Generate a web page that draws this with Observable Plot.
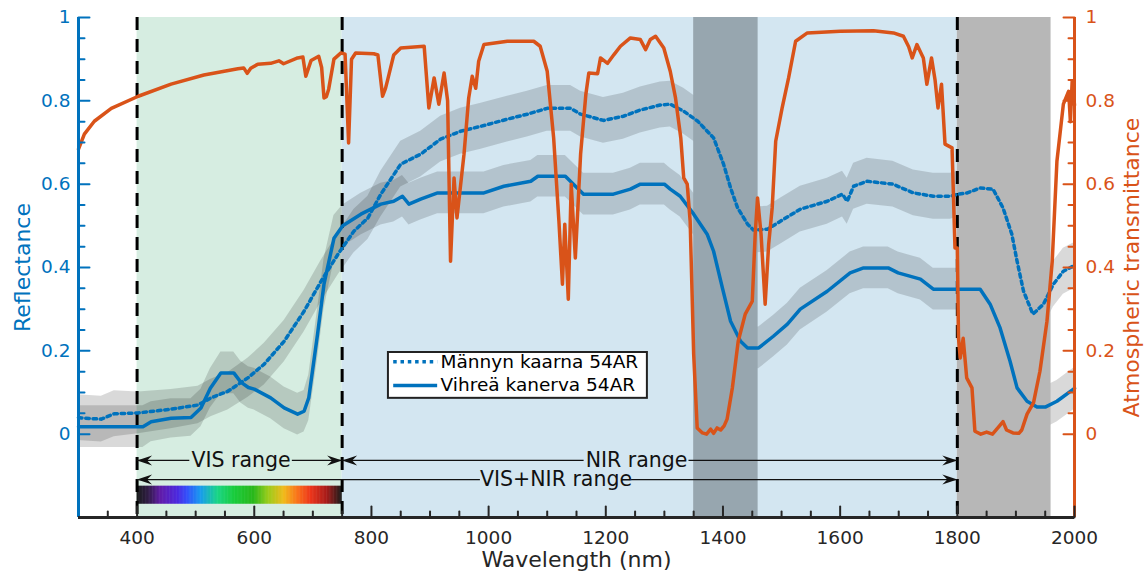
<!DOCTYPE html>
<html>
<head>
<meta charset="utf-8">
<script src="https://cdn.jsdelivr.net/npm/d3@7"></script>
<script src="https://cdn.jsdelivr.net/npm/@observablehq/plot@0.6"></script>
<style>
  html, body { margin: 0; padding: 0; background: #ffffff; }
  svg { display: block; }
</style>
</head>
<body>
<div id="chart"></div>
<script>
// ---------------- DATA ----------------
// Vihreä kanerva 54AR: [wavelength nm, mean reflectance, std]
const heather = [
  [300,0.018,0.05],[400,0.018,0.05],[410,0.018,0.05],[424,0.03,0.048],[458,0.038,0.047],[492,0.04,0.045],
  [509,0.063,0.045],[525,0.11,0.047],[543,0.147,0.05],[565,0.147,0.05],[577,0.125,0.05],[590,0.112,0.05],
  [600,0.108,0.05],[628,0.087,0.05],[651,0.063,0.05],[674,0.048,0.05],[685,0.055,0.05],[693,0.087,0.055],
  [708,0.24,0.06],[719,0.36,0.06],[736,0.47,0.055],[751,0.5,0.05],[782,0.528,0.05],[816,0.552,0.05],
  [838,0.559,0.05],[853,0.571,0.05],[864,0.552,0.05],[884,0.564,0.05],[913,0.579,0.05],[992,0.579,0.05],
  [1026,0.595,0.05],[1072,0.607,0.05],[1084,0.619,0.05],[1131,0.619,0.05],[1162,0.576,0.05],[1213,0.576,0.05],
  [1242,0.588,0.05],[1259,0.6,0.05],[1300,0.6,0.05],[1310,0.588,0.05],[1327,0.571,0.05],[1350,0.528,0.05],
  [1373,0.48,0.05],[1384,0.439,0.05],[1399,0.351,0.05],[1413,0.271,0.05],[1430,0.223,0.05],[1442,0.207,0.05],
  [1461,0.207,0.05],[1486,0.235,0.05],[1510,0.264,0.05],[1532,0.3,0.05],[1578,0.343,0.05],[1617,0.387,0.05],
  [1640,0.399,0.05],[1682,0.399,0.05],[1699,0.387,0.05],[1737,0.372,0.05],[1759,0.348,0.05],[1839,0.348,0.05],
  [1856,0.312,0.05],[1873,0.255,0.05],[1890,0.175,0.05],[1902,0.111,0.05],[1919,0.079,0.05],[1936,0.065,0.05],
  [1950,0.065,0.05],[1970,0.079,0.05],[2000,0.11,0.05]
];

// Männyn kaarna 54AR: [wavelength nm, mean reflectance, std]
const bark = [
  [300,0.04,0.055],[305,0.039,0.055],[339,0.036,0.055],[361,0.049,0.055],[402,0.051,0.05],[458,0.06,0.047],
  [504,0.07,0.045],[526,0.087,0.045],[555,0.103,0.045],[589,0.135,0.047],[617,0.168,0.05],[651,0.223,0.05],
  [685,0.295,0.05],[714,0.367,0.05],[743,0.432,0.05],[770,0.487,0.052],[794,0.519,0.052],[816,0.576,0.055],
  [850,0.648,0.055],[884,0.672,0.055],[918,0.708,0.055],[952,0.727,0.055],[987,0.739,0.055],[1032,0.756,0.055],
  [1066,0.768,0.055],[1100,0.782,0.055],[1140,0.782,0.055],[1157,0.768,0.055],[1196,0.753,0.055],[1230,0.763,0.055],
  [1259,0.778,0.055],[1293,0.79,0.055],[1310,0.792,0.055],[1333,0.775,0.055],[1357,0.751,0.055],[1384,0.711,0.055],
  [1401,0.648,0.055],[1413,0.591,0.055],[1425,0.543,0.055],[1442,0.504,0.055],[1452,0.49,0.055],[1476,0.492,0.055],
  [1498,0.511,0.055],[1532,0.54,0.055],[1578,0.559,0.055],[1604,0.576,0.055],[1612,0.559,0.055],[1623,0.595,0.055],
  [1646,0.607,0.055],[1690,0.6,0.055],[1725,0.579,0.055],[1759,0.571,0.055],[1788,0.571,0.055],[1802,0.576,0.055],
  [1817,0.579,0.055],[1839,0.591,0.055],[1861,0.588,0.055],[1878,0.543,0.055],[1893,0.48,0.055],[1902,0.415,0.055],
  [1913,0.343,0.055],[1929,0.288,0.055],[1947,0.312,0.055],[1964,0.36,0.055],[1981,0.391,0.055],[2000,0.405,0.055]
];

// Atmospheric transmittance: [wavelength nm, transmittance]
const transmittance = [
  [300,0.684],[310,0.72],[327,0.751],[356,0.782],[402,0.811],[458,0.84],[514,0.862],[572,0.877],[582,0.879],
  [588,0.866],[594,0.878],[606,0.888],[628,0.89],[642,0.896],[650,0.889],[674,0.903],[683,0.905],[688,0.859],
  [697,0.897],[710,0.907],[715,0.88],[719,0.807],[723,0.81],[727,0.828],[736,0.9],[748,0.915],[755,0.912],
  [761,0.699],[766,0.9],[773,0.915],[804,0.913],[811,0.91],[819,0.811],[824,0.83],[828,0.852],[838,0.91],
  [850,0.927],[890,0.931],[898,0.783],[907,0.855],[915,0.792],[924,0.867],[930,0.8],[935,0.415],[941,0.615],
  [946,0.519],[958,0.672],[966,0.807],[972,0.859],[978,0.83],[983,0.895],[992,0.935],[1032,0.943],[1077,0.943],
  [1088,0.931],[1100,0.871],[1111,0.711],[1120,0.511],[1126,0.36],[1130,0.504],[1136,0.324],[1141,0.6],
  [1148,0.423],[1157,0.672],[1166,0.816],[1171,0.867],[1186,0.865],[1191,0.903],[1203,0.89],[1214,0.911],
  [1225,0.931],[1242,0.951],[1259,0.947],[1268,0.923],[1276,0.947],[1285,0.955],[1299,0.927],[1310,0.871],
  [1319,0.807],[1328,0.711],[1333,0.615],[1339,0.6],[1344,0.511],[1350,0.192],[1356,0.015],[1365,0.003],
  [1372,0.0],[1379,0.012],[1384,0.002],[1390,0.015],[1396,0.01],[1402,0.02],[1407,0.036],[1416,0.111],
  [1426,0.223],[1438,0.288],[1450,0.319],[1455,0.48],[1459,0.567],[1465,0.48],[1472,0.312],[1478,0.456],
  [1484,0.543],[1490,0.703],[1501,0.783],[1512,0.855],[1524,0.943],[1544,0.963],[1600,0.967],[1657,0.968],
  [1691,0.963],[1708,0.955],[1717,0.93],[1723,0.903],[1731,0.935],[1742,0.903],[1748,0.84],[1756,0.903],
  [1762,0.85],[1767,0.783],[1773,0.84],[1779,0.696],[1791,0.687],[1796,0.447],[1800,0.447],[1802,0.231],
  [1805,0.183],[1810,0.23],[1816,0.135],[1825,0.111],[1830,0.007],[1840,0.0],[1850,0.005],[1860,0.0],
  [1872,0.02],[1878,0.03],[1884,0.01],[1895,0.003],[1905,0.002],[1910,0.01],[1919,0.048],[1930,0.075],
  [1941,0.151],[1953,0.271],[1962,0.415],[1970,0.655],[1981,0.792],[1990,0.823],[1993,0.75],[1996,0.847],[2000,0.79]
];

// Wavelength ranges (nm)
const visRange = [400, 750];
const nirRange = [750, 1800];
const absorptionBand1 = [1350, 1460];
const absorptionBand2 = [1800, 1960];
const rangeMarkers = [400, 750, 1800];

// Range annotations
const rangeArrows = [
  {label: "VIS range",     from: 400, to: 750,  level: -0.063, gapFrom: 490, gapTo: 665},
  {label: "NIR range",     from: 750, to: 1800, level: -0.063, gapFrom: 1163, gapTo: 1342},
  {label: "VIS+NIR range", from: 400, to: 1800, level: -0.109, gapFrom: 986, gapTo: 1244}
];

// Visible spectrum colour stops
const spectrumWl = [400, 420, 441, 470, 486, 509, 538, 566, 600, 623, 651, 674, 697, 725, 750];
const spectrumColors = ["#000000","#1c0033","#5200a3","#3a10e0","#1e3cff","#0090f0","#00d27a","#00c828",
                        "#14b000","#8cc800","#f5b400","#ff6400","#f01e00","#a00000","#000000"];

// Ticks
const xMajorTicks = [400, 600, 800, 1000, 1200, 1400, 1600, 1800, 2000];
const xMinorTicks = [350, 450, 500, 550, 650, 700, 750, 850, 900, 950, 1050, 1100, 1150, 1250, 1300, 1350,
                     1450, 1500, 1550, 1650, 1700, 1750, 1850, 1900, 1950];
const yMajorTicks = [0, 0.2, 0.4, 0.6, 0.8, 1];
const yMinorTicks = [0.05, 0.1, 0.15, 0.25, 0.3, 0.35, 0.45, 0.5, 0.55, 0.65, 0.7, 0.75, 0.85, 0.9, 0.95];

const legendLabels = ["Männyn kaarna 54AR", "Vihreä kanerva 54AR"];

// ---------------- STYLE ----------------
const BLUE = "#0072BD", ORANGE = "#D95319", INK = "#262626";
const FONT = "DejaVu Sans";

const tickShape = {draw(ctx, l) { ctx.moveTo(0, 0); ctx.lineTo(0, -l); }};
const headRight = {draw(ctx) { ctx.moveTo(0, 0); ctx.lineTo(-15, -5); ctx.lineTo(-10, 0); ctx.lineTo(-15, 5); ctx.closePath(); }};
const headLeft  = {draw(ctx) { ctx.moveTo(0, 0); ctx.lineTo(15, -5); ctx.lineTo(10, 0); ctx.lineTo(15, 5); ctx.closePath(); }};

const arrowSegments = rangeArrows.flatMap(a => [
  {x1: a.from, x2: a.gapFrom, y: a.level},
  {x1: a.gapTo, x2: a.to, y: a.level}
]);
const spectrumCells = d3.range(visRange[0], visRange[1], 1);

function tickMarks(data, frameAnchor, rotate, length, stroke, channel) {
  return Plot.vector(data, {
    [channel]: d => d, frameAnchor, rotate, length, anchor: "start",
    shape: tickShape, stroke, strokeWidth: 2
  });
}

const wl = d => d[0], mean = d => d[1];

const chart = Plot.plot({
  width: 1148, height: 573,
  marginLeft: 78, marginRight: 74, marginTop: 17, marginBottom: 56,
  x: {domain: [300, 2000]},
  y: {domain: [-0.2, 1]},
  color: {type: "linear", domain: spectrumWl, range: spectrumColors, interpolate: "rgb"},
  style: {fontFamily: FONT, background: "#ffffff", overflow: "visible"},
  marks: [
    // background regions
    Plot.rect([visRange], {x1: d => d[0], x2: d => d[1], y1: -0.2, y2: 1, fill: "#d6ede1"}),
    Plot.rect([nirRange], {x1: d => d[0], x2: d => d[1], y1: -0.2, y2: 1, fill: "#d3e6f1"}),
    // std bands
    Plot.areaY(bark, {x: wl, y1: d => d[1] - d[2], y2: d => d[1] + d[2], fill: "#000", fillOpacity: 0.15}),
    Plot.areaY(heather, {x: wl, y1: d => d[1] - d[2], y2: d => d[1] + d[2], fill: "#000", fillOpacity: 0.15}),
    // absorption bands
    Plot.rect([absorptionBand1], {x1: d => d[0], x2: d => d[1], y1: -0.2, y2: 1, fill: "#97a6af"}),
    Plot.rect([absorptionBand2], {x1: d => d[0], x2: d => d[1], y1: -0.2, y2: 1, fill: "#b7b7b7"}),
    // spectrum bar
    Plot.rect(spectrumCells, {x1: d => d, x2: d => Math.min(d + 1.3, visRange[1]), y1: -0.168, y2: -0.125, fill: d => d + 0.5}),
    // dashed markers
    Plot.ruleX(rangeMarkers, {stroke: "#000", strokeWidth: 3, strokeDasharray: "13,9"}),
    // range arrows
    Plot.ruleY(arrowSegments, {y: "y", x1: "x1", x2: "x2", stroke: "#111", strokeWidth: 1.2}),
    Plot.dot(rangeArrows, {x: "from", y: "level", symbol: headLeft, fill: "#111", stroke: "none"}),
    Plot.dot(rangeArrows, {x: "to", y: "level", symbol: headRight, fill: "#111", stroke: "none"}),
    Plot.text(rangeArrows, {x: d => (d.gapFrom + d.gapTo) / 2, y: "level", text: "label",
      fontSize: 20.5, fill: "#111", textAnchor: "middle", lineAnchor: "middle"}),
    // curves
    Plot.line(bark, {x: wl, y: mean, stroke: BLUE, strokeWidth: 3.5, strokeDasharray: "3.5,3.8"}),
    Plot.line(heather, {x: wl, y: mean, stroke: BLUE, strokeWidth: 3.5, strokeLinejoin: "round"}),
    Plot.line(transmittance, {x: wl, y: mean, stroke: ORANGE, strokeWidth: 3.5, strokeLinejoin: "round"}),
    // legend
    Plot.rect([0], {x1: 829, x2: 1271, y1: 0.086, y2: 0.196, fill: "#fff", stroke: "#222", strokeWidth: 2}),
    Plot.ruleY([0.174], {x1: 838, x2: 913, stroke: BLUE, strokeWidth: 3.5, strokeDasharray: "3.5,3.8"}),
    Plot.ruleY([0.117], {x1: 838, x2: 913, stroke: BLUE, strokeWidth: 3.5}),
    Plot.text(legendLabels, {x: 918, y: (d, i) => i === 0 ? 0.174 : 0.117, text: d => d,
      textAnchor: "start", lineAnchor: "middle", fontSize: 18.5, fill: "#000"}),
    // axis lines
    Plot.ruleX([300], {stroke: BLUE, strokeWidth: 3}),
    Plot.ruleX([2000], {stroke: ORANGE, strokeWidth: 3}),
    Plot.ruleY([-0.2], {stroke: INK, strokeWidth: 3}),
    // ticks (inward)
    tickMarks(xMajorTicks, "bottom", 0, 11, INK, "x"),
    tickMarks(xMinorTicks, "bottom", 0, 6, INK, "x"),
    tickMarks(yMajorTicks, "left", 90, 11, BLUE, "y"),
    tickMarks(yMinorTicks, "left", 90, 6, BLUE, "y"),
    tickMarks(yMajorTicks, "right", -90, 11, ORANGE, "y"),
    tickMarks(yMinorTicks, "right", -90, 6, ORANGE, "y"),
    // tick labels
    Plot.axisX(xMajorTicks, {anchor: "bottom", tickSize: 0, tickPadding: 13, fontSize: 18.5,
      fill: INK, tickFormat: d => String(d), label: null}),
    Plot.axisY(yMajorTicks, {anchor: "left", tickSize: 0, tickPadding: 8, fontSize: 18.5,
      fill: BLUE, tickFormat: d3.format("~g"), label: null}),
    Plot.axisY(yMajorTicks, {anchor: "right", tickSize: 0, tickPadding: 11, fontSize: 18.5,
      fill: ORANGE, tickFormat: d3.format("~g"), label: null}),
    // axis titles
    Plot.text(["Wavelength (nm)"], {text: d => d, frameAnchor: "bottom", dy: 42, fontSize: 22,
      fill: INK, textAnchor: "middle", lineAnchor: "middle"}),
    Plot.text(["Reflectance"], {text: d => d, frameAnchor: "left", dx: -56, rotate: -90, fontSize: 22,
      fill: BLUE, textAnchor: "middle", lineAnchor: "middle"}),
    Plot.text(["Atmospheric transmittance"], {text: d => d, frameAnchor: "right", dx: 57, rotate: -90, fontSize: 22,
      fill: ORANGE, textAnchor: "middle", lineAnchor: "middle"})
  ]
});

document.getElementById("chart").appendChild(chart);
</script>
</body>
</html>
